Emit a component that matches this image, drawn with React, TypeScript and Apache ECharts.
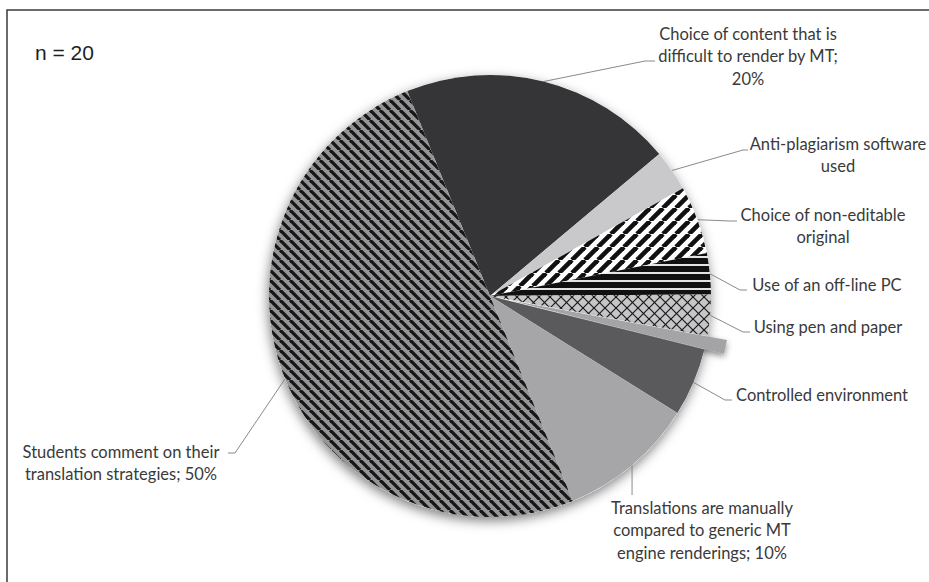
import React, { useEffect, useRef } from 'react';
import * as echarts from 'echarts';

// ---------- data ----------
const categories = [
  'Choice of content that is difficult to render by MT',
  'Anti-plagiarism software used',
  'Choice of non-editable original',
  'Use of an off-line PC',
  'Using pen and paper',
  'Other',
  'Controlled environment',
  'Translations are manually compared to generic MT engine renderings',
  'Students comment on their translation strategies',
];
const values = [20, 3, 5, 3, 3, 1, 5, 10, 50];
const labelTexts = [
  'Choice of content that is\ndifficult to render by MT;\n{p}%',
  'Anti-plagiarism software\nused',
  'Choice of non-editable\noriginal',
  'Use of an off-line PC',
  'Using pen and paper',
  '',
  'Controlled environment',
  'Translations are manually\ncompared to generic MT\nengine renderings; {p}%',
  'Students comment on their\ntranslation strategies; {p}%',
];
const explodedIndex = 5;
const sampleText = 'n = 20';

// ---------- layout / style ----------
const CX = 490;
const CY = 296;
const R = 221;
const START_ANGLE = 112;
// label block centre + leader elbow/end points
const labelPos: number[][] = [
  [748, 56], [838, 155], [823, 226], [827, 285], [828, 327], [0, 0], [822, 395], [702, 530], [121, 463],
];
const leaderPts: number[][][] = [
  [[645, 61], [655, 61]],
  [[743, 150], [748, 150]],
  [[730, 221], [737, 221]],
  [[740, 290], [747, 290]],
  [[743, 332], [750, 332]],
  [],
  [[725, 400], [732, 400]],
  [[-1, 495]],
  [[235, 453], [228, 453]],
];

function stripes(size: number, bg: string, fg: string, lw: number, dir: string) {
  const c = document.createElement('canvas');
  c.width = size; c.height = size;
  const ctx = c.getContext('2d')!;
  ctx.fillStyle = bg; ctx.fillRect(0, 0, size, size);
  ctx.strokeStyle = fg; ctx.lineWidth = lw;
  const dirs = dir === 'x' ? ['\\', '/'] : [dir];
  for (const d of dirs) {
    for (let k = -1; k <= 1; k++) {
      ctx.beginPath();
      if (d === '\\') { ctx.moveTo(k * size, 0); ctx.lineTo(k * size + size, size); }
      else { ctx.moveTo(k * size, size); ctx.lineTo(k * size + size, 0); }
      ctx.stroke();
    }
  }
  return { image: c, repeat: 'repeat', imageWidth: size, imageHeight: size };
}
function hstripes(size: number, bg: string, fg: string, lh: number) {
  const c = document.createElement('canvas');
  c.width = size; c.height = size;
  const ctx = c.getContext('2d')!;
  ctx.fillStyle = bg; ctx.fillRect(0, 0, size, size);
  ctx.fillStyle = fg; ctx.fillRect(0, 0, size, lh);
  return { image: c, repeat: 'repeat', imageWidth: size, imageHeight: size };
}

function midEdge(i: number) {
  const total = values.reduce((a, b) => a + b, 0);
  let before = 0;
  for (let j = 0; j < i; j++) before += values[j];
  const frac = (before + values[i] / 2) / total;
  const ang = ((START_ANGLE - frac * 360) * Math.PI) / 180;
  return [CX + R * Math.cos(ang), CY - R * Math.sin(ang)];
}

export default function App() {
  const ref = useRef<HTMLDivElement>(null);
  useEffect(() => {
    if (!ref.current) return;
    const chart = echarts.init(ref.current, null, { renderer: 'svg' });
    const fills: any[] = [
      '#353537',
      '#c9c9cb',
      stripes(13, '#ffffff', '#111111', 4.6, '/'),
      hstripes(8, '#111111', '#e4e4e4', 2),
      stripes(11, '#c6c6c8', '#1a1a1a', 1.2, 'x'),
      '#a4a4a6',
      '#5a5a5c',
      '#a6a6a8',
      stripes(10, '#959597', '#161616', 3.3, '\\'),
    ];
    const data = categories.map((name, i) => {
      const item: any = {
        name,
        value: values[i],
        itemStyle: { color: fills[i] },
      };
      if (i === explodedIndex) {
        item.selected = true;
        item.label = { show: false };
        item.labelLine = { show: false };
        item.itemStyle = {
          color: fills[i],
          shadowBlur: 6,
          shadowColor: 'rgba(0,0,0,0.45)',
          shadowOffsetY: 3,
        };
        item.select = { itemStyle: { color: fills[i], borderWidth: 0 } };
      }
      return item;
    });
    chart.setOption({
      animation: false,
      graphic: [
        {
          type: 'rect',
          shape: { x: 7, y: 10, width: 940, height: 600 },
          style: { fill: 'none', stroke: '#3a3a3a', lineWidth: 1.5 },
          z: 0,
        },
        {
          type: 'text',
          x: 35,
          y: 52,
          style: {
            text: sampleText,
            fill: '#1e1e1e',
            font: '21px "Liberation Sans", Arial, sans-serif',
            verticalAlign: 'middle',
          },
        },
      ],
      series: [
        {
          type: 'pie',
          silent: true,
          center: [CX, CY],
          radius: R,
          z: 1,
          label: { show: false },
          labelLine: { show: false },
          data: [
            {
              value: 1,
              itemStyle: {
                color: '#ffffff',
                shadowBlur: 12,
                shadowColor: 'rgba(0,0,0,0.5)',
                shadowOffsetY: 4,
                shadowOffsetX: -1,
              },
            },
          ],
        },
        {
          type: 'pie',
          z: 2,
          center: [CX, CY],
          radius: R,
          startAngle: START_ANGLE,
          clockwise: true,
          selectedMode: 'single',
          selectedOffset: 20,
          avoidLabelOverlap: false,
          itemStyle: { borderWidth: 0 },
          emphasis: { disabled: true },
          label: {
            show: true,
            position: 'outside',
            color: '#3a3a3a',
            fontFamily: 'Lato, "Open Sans", sans-serif',
            fontSize: 16.5,
            lineHeight: 22.5,
            align: 'center',
            formatter: (p: any) =>
              labelTexts[p.dataIndex].replace('{p}', String(Math.round(p.percent))),
          },
          labelLine: { show: true, lineStyle: { color: '#8a8a8a', width: 1 } },
          labelLayout: (params: any) => {
            const i = params.dataIndex;
            if (i === explodedIndex) return {};
            const e = midEdge(i);
            const pts = [e].concat(
              leaderPts[i].map((p) => [p[0] < 0 ? e[0] : p[0], p[1]])
            );
            return {
              x: labelPos[i][0],
              y: labelPos[i][1],
              align: 'center',
              verticalAlign: 'middle',
              labelLinePoints: pts,
            };
          },
          data,
        },
      ],
    });
    return () => chart.dispose();
  }, []);
  return (
    <div
      ref={ref}
      style={{ position: 'fixed', left: 0, top: 0, width: 929, height: 582, background: '#fff' }}
    />
  );
}
